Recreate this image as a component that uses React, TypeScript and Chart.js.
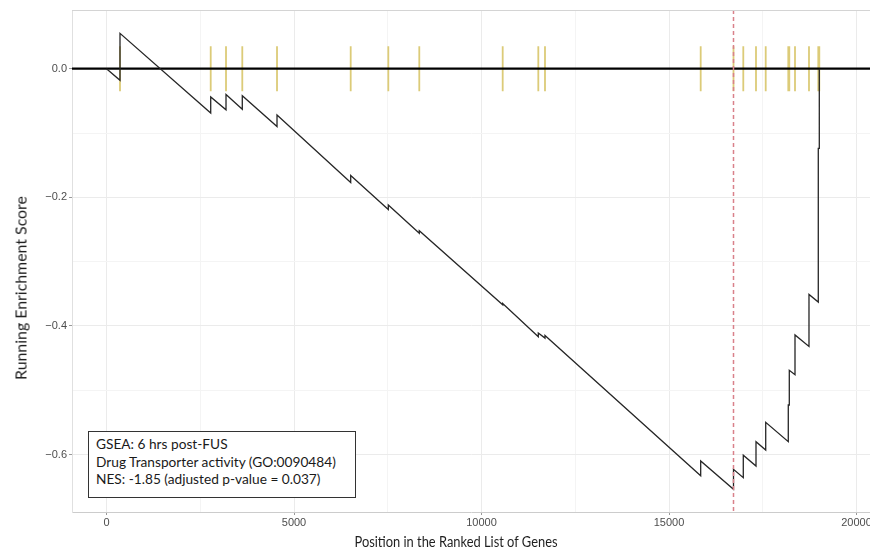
import React, { useEffect, useRef } from 'react';
import { Chart, registerables } from 'chart.js';

Chart.register(...registerables);

// Gene hits (rank positions in the ranked list) and running ES just before / after each hit
const hitRanks = [360, 2779, 3187, 3621, 4547, 6512, 7515, 8341, 10565, 11515, 11693, 15845, 16720, 16981, 17320, 17579, 18181, 18208, 18360, 18733, 18981, 19008];
const scoreBeforeHit = [-0.018, -0.069, -0.064, -0.063, -0.090, -0.177, -0.219, -0.256, -0.367, -0.417, -0.419, -0.633, -0.654, -0.636, -0.618, -0.593, -0.580, -0.523, -0.476, -0.432, -0.363, -0.124];
const scoreAfterHit = [0.055, -0.044, -0.040, -0.042, -0.072, -0.166, -0.212, -0.252, -0.365, -0.411, -0.415, -0.610, -0.623, -0.601, -0.580, -0.550, -0.523, -0.469, -0.414, -0.351, -0.124, 0.000];
const startRank = 0;
const startScore = 0;
const peakRank = 16720;

const xTickValues = [0, 5000, 10000, 15000, 20000];
const xTickLabels = ['0', '5000', '10000', '15000', '20000'];
const yTickValues = [-0.6, -0.4, -0.2, 0.0];
const yTickLabels = ['\u22120.6', '\u22120.4', '\u22120.2', '0.0'];

const annotationLines = [
  'GSEA: 6 hrs post-FUS',
  'Drug Transporter activity (GO:0090484)',
  'NES: -1.85 (adjusted p-value = 0.037)',
];

const X_MIN = -920;
const X_MAX = 20360;
const Y_MIN = -0.6894;
const Y_MAX = 0.0913;
const HIT_HALF = 0.035;

function labelFor(values: number[], labels: string[], v: number): string {
  for (let i = 0; i < values.length; i++) {
    if (Math.abs(values[i] - v) < 1e-6) return labels[i];
  }
  return '';
}

// major ticks plus minor (midpoint) grid positions, kept inside the axis range
function withMinors(majors: number[], lo: number, hi: number): number[] {
  const step = majors[1] - majors[0];
  const out: number[] = [];
  const first = majors[0] - step * 2;
  const last = majors[majors.length - 1] + step * 2;
  for (let v = first; v <= last + 1e-9; v += step / 2) {
    const r = Math.round(v * 1e6) / 1e6;
    if (r >= lo && r <= hi) out.push(r);
  }
  return out;
}

export default function App() {
  const canvasRef = useRef<HTMLCanvasElement | null>(null);

  useEffect(() => {
    if (!canvasRef.current) return;

    const curve: { x: number; y: number }[] = [{ x: startRank, y: startScore }];
    hitRanks.forEach((r, i) => {
      curve.push({ x: r, y: scoreBeforeHit[i] });
      curve.push({ x: r, y: scoreAfterHit[i] });
    });

    const hitSegs: { x: number; y: number | null }[] = [];
    hitRanks.forEach((r) => {
      hitSegs.push({ x: r, y: -HIT_HALF });
      hitSegs.push({ x: r, y: HIT_HALF });
      hitSegs.push({ x: r, y: null });
    });

    const xGrid = withMinors(xTickValues, X_MIN, X_MAX);
    const yGrid = withMinors(yTickValues, Y_MIN, Y_MAX);

    const refLines = {
      id: 'refLines',
      beforeDatasetDraw(chart: any, args: any) {
        if (args.index !== 0) return;
        const { ctx, chartArea, scales } = chart;
        const y0 = scales.y.getPixelForValue(0);
        ctx.save();
        ctx.strokeStyle = '#000000';
        ctx.lineWidth = 2.2;
        ctx.beginPath();
        ctx.moveTo(chartArea.left, y0);
        ctx.lineTo(chartArea.right, y0);
        ctx.stroke();
        ctx.restore();
      },
      afterDatasetsDraw(chart: any) {
        const { ctx, chartArea, scales } = chart;
        const xp = scales.x.getPixelForValue(peakRank);
        ctx.save();
        ctx.strokeStyle = '#d9818a';
        ctx.lineWidth = 1.5;
        ctx.setLineDash([4, 3]);
        ctx.beginPath();
        ctx.moveTo(xp, chartArea.top);
        ctx.lineTo(xp, chartArea.bottom);
        ctx.stroke();
        ctx.restore();
        ctx.save();
        ctx.strokeStyle = '#d4d4d4';
        ctx.lineWidth = 1;
        ctx.beginPath();
        ctx.moveTo(chartArea.left, chartArea.top + 0.5);
        ctx.lineTo(chartArea.right, chartArea.top + 0.5);
        ctx.stroke();
        ctx.restore();
      },
    };

    const tickFont = { family: '"Liberation Sans", Arial, sans-serif', size: 11 };

    const chart = new Chart(canvasRef.current, {
      type: 'line',
      data: {
        datasets: [
          {
            data: curve,
            borderColor: '#262626',
            borderWidth: 1.3,
            pointRadius: 0,
            tension: 0,
            fill: false,
          },
          {
            data: hitSegs as any,
            borderColor: '#dccb78',
            borderWidth: 1.8,
            pointRadius: 0,
            tension: 0,
            spanGaps: false,
            fill: false,
          },
        ],
      },
      options: {
        animation: false,
        responsive: false,
        maintainAspectRatio: false,
        events: [],
        layout: { padding: { top: 10, left: 0, right: 0, bottom: 0 } },
        plugins: {
          legend: { display: false },
          tooltip: { enabled: false },
        },
        scales: {
          x: {
            type: 'linear',
            min: X_MIN,
            max: X_MAX,
            afterBuildTicks: (s: any) => {
              s.ticks = xGrid.map((v) => ({ value: v }));
            },
            afterFit: (s: any) => {
              s.height = 40;
              s.paddingLeft = 0;
              s.paddingRight = 0;
            },
            ticks: {
              autoSkip: false,
              maxRotation: 0,
              padding: 1,
              color: '#4d4d4d',
              font: tickFont,
              callback: (v: any) => labelFor(xTickValues, xTickLabels, Number(v)),
            },
            grid: {
              color: (c: any) =>
                labelFor(xTickValues, xTickLabels, c.tick?.value) ? '#ebebeb' : '#f4f4f4',
              lineWidth: 1,
              tickLength: 3,
              tickColor: (c: any) =>
                labelFor(xTickValues, xTickLabels, c.tick?.value) ? '#999999' : 'rgba(0,0,0,0)',
            },
            border: { display: true, color: '#cccccc', width: 1 },
          },
          y: {
            type: 'linear',
            min: Y_MIN,
            max: Y_MAX,
            afterBuildTicks: (s: any) => {
              s.ticks = yGrid.map((v) => ({ value: v }));
            },
            afterFit: (s: any) => {
              s.width = 72;
              s.paddingTop = 0;
              s.paddingBottom = 0;
            },
            ticks: {
              autoSkip: false,
              padding: 2,
              color: '#4d4d4d',
              font: tickFont,
              callback: (v: any) => labelFor(yTickValues, yTickLabels, Number(v)),
            },
            grid: {
              color: (c: any) =>
                labelFor(yTickValues, yTickLabels, c.tick?.value) ? '#ebebeb' : '#f4f4f4',
              lineWidth: 1,
              tickLength: 3,
              tickColor: (c: any) =>
                labelFor(yTickValues, yTickLabels, c.tick?.value) ? '#999999' : 'rgba(0,0,0,0)',
            },
            border: { display: true, color: '#e0e0e0', width: 1 },
          },
        },
      },
      plugins: [refLines],
    } as any);

    return () => {
      chart.destroy();
    };
  }, []);

  const titleFont = 'Lato, "Open Sans", sans-serif';

  return (
    <div style={{ position: 'absolute', left: 0, top: 0, width: 870, height: 552, background: '#ffffff', overflow: 'hidden' }}>
      <canvas ref={canvasRef} width={870} height={552} style={{ display: 'block', width: 870, height: 552 }} />
      <div
        style={{
          position: 'absolute',
          left: 20,
          top: 288,
          transform: 'translate(-50%, -50%) rotate(-90deg)',
          whiteSpace: 'nowrap',
          fontFamily: titleFont,
          fontSize: 15.9,
          color: '#1f1f1f',
        }}
      >
        Running Enrichment Score
      </div>
      <div
        style={{
          position: 'absolute',
          left: 455.5,
          top: 541,
          transform: 'translate(-50%, -50%) scaleX(0.83)',
          whiteSpace: 'nowrap',
          fontFamily: titleFont,
          fontSize: 15.5,
          color: '#1f1f1f',
        }}
      >
        Position in the Ranked List of Genes
      </div>
      <div
        style={{
          position: 'absolute',
          left: 88,
          top: 431,
          width: 268,
          height: 67,
          boxSizing: 'border-box',
          border: '1px solid #333333',
          background: '#ffffff',
          padding: '3px 0 0 7px',
          fontFamily: titleFont,
          fontSize: 13.7,
          lineHeight: '17.5px',
          color: '#1a1a1a',
          whiteSpace: 'nowrap',
        }}
      >
        {annotationLines.map((t, i) => (
          <div key={i}>{t}</div>
        ))}
      </div>
    </div>
  );
}
